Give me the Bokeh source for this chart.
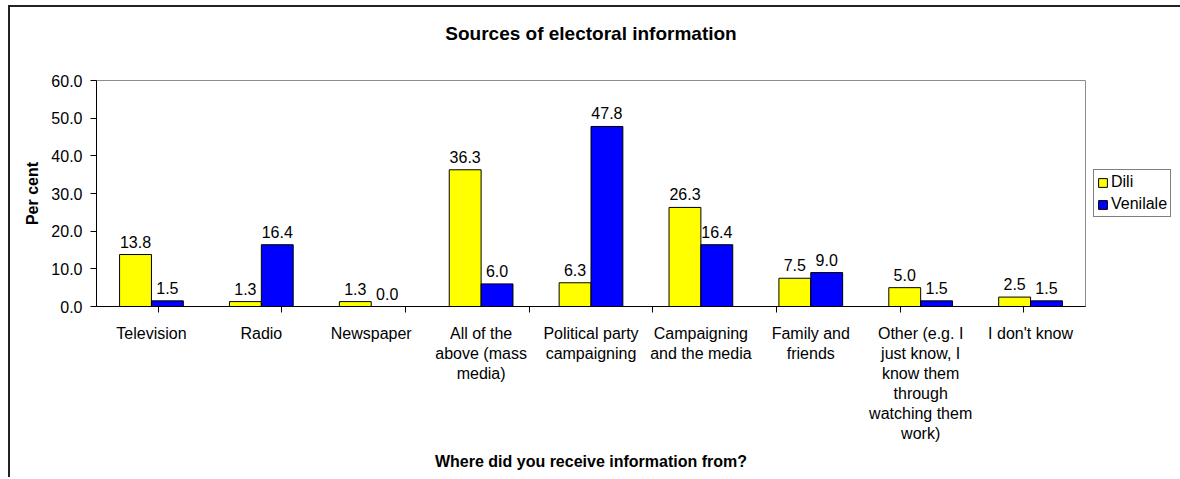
from bokeh.plotting import figure
from bokeh.models import (FactorRange, Range1d, LinearAxis, CategoricalAxis, FixedTicker,
                          ColumnDataSource, NumeralTickFormatter, Title)
from bokeh.transform import dodge
from bokeh.embed import file_html
from bokeh.resources import INLINE
from bokeh.core.properties import value

# ---- data ----
categories = ["Television", "Radio", "Newspaper", "All of the\nabove (mass\nmedia)",
              "Political party\ncampaigning", "Campaigning\nand the media",
              "Family and\nfriends",
              "Other (e.g. I\njust know, I\nknow them\nthrough\nwatching them\nwork)",
              "I don't know"]
dili = [13.8, 1.3, 1.3, 36.3, 6.3, 26.3, 7.5, 5.0, 2.5]
venilale = [1.5, 16.4, 0.0, 6.0, 47.8, 16.4, 9.0, 1.5, 1.5]
series_names = ["Dili", "Venilale"]
y_ticks = [0, 10, 20, 30, 40, 50, 60]

FONT = "Liberation Sans"

src = ColumnDataSource(dict(
    cat=categories, dili=dili, venilale=venilale,
    dili_lbl=[f"{v:.1f}" for v in dili],
    ven_lbl=[f"{v:.1f}" for v in venilale],
))

p = figure(x_range=FactorRange(*categories), y_range=Range1d(0, 60),
           frame_width=989, frame_height=226, output_backend="svg", toolbar_location=None,
           min_border_left=86, min_border_right=0, min_border_top=73, min_border_bottom=173,
           x_axis_location=None, y_axis_location=None)
p.margin = (7, 0, 0, 10)
p.styles = {"box-shadow": "-2px -2px 0 0 #222222"}
p.background_fill_color = "white"
p.border_fill_color = "white"
p.outline_line_color = "#8c8c8c"
p.outline_line_width = 1
p.grid.visible = False

# title (with a small spacer between it and the plot area)
p.title.text = "Sources of electoral information"
p.title.align = "center"
p.title.text_font = FONT
p.title.text_font_size = "19px"
p.title.text_font_style = "bold"
p.title.text_color = "black"
p.title.standoff = 10
p.add_layout(Title(text=" ", text_font_size="1px", standoff=29), "above")

# separator ticks between categories: a factor range of category boundaries
boundaries = [f"b{i}" for i in range(len(categories) + 1)]
p.extra_x_ranges = {"sep": FactorRange(factors=boundaries, range_padding=-1,
                                        range_padding_units="absolute")}
sep_axis = CategoricalAxis(x_range_name="sep",
                           major_tick_out=6, major_tick_in=0, minor_tick_line_color=None,
                           major_label_standoff=0, major_label_text_font_size="0px",
                           axis_line_color="black", major_tick_line_color="black")
p.add_layout(sep_axis, "below")

cat_axis = CategoricalAxis(major_tick_line_color=None, axis_line_color=None,
                           minor_tick_line_color=None,
                           major_label_standoff=6,
                           major_label_text_font=FONT, major_label_text_font_size="16px",
                           major_label_text_color="black",
                           major_label_text_line_height=1.18,
                           axis_label="Where did you receive information from?",
                           axis_label_text_font=FONT, axis_label_text_font_size="16px",
                           axis_label_text_font_style="bold", axis_label_text_color="black",
                           axis_label_standoff=8)
p.add_layout(cat_axis, "below")

yaxis = LinearAxis(ticker=FixedTicker(ticks=y_ticks),
                   formatter=NumeralTickFormatter(format="0.0"),
                   major_tick_out=6, major_tick_in=0, minor_tick_line_color=None,
                   major_label_standoff=8, major_label_text_font=FONT,
                   major_label_text_font_size="16px", major_label_text_color="black",
                   axis_line_color="black", major_tick_line_color="black",
                   axis_label="Per cent", axis_label_text_font=FONT,
                   axis_label_text_font_size="16px", axis_label_text_font_style="bold",
                   axis_label_text_color="black", axis_label_standoff=7)
p.add_layout(yaxis, "left")

off = 0.145
bw = 0.29
p.vbar(x=dodge("cat", -off, range=p.x_range), top="dili", width=bw, source=src,
       fill_color="#FFFF00", line_color="black", line_width=1, legend_label=series_names[0])
p.vbar(x=dodge("cat", off, range=p.x_range), top="venilale", width=bw, source=src,
       fill_color="#0000FF", line_color="black", line_width=1, legend_label=series_names[1])

p.text(x=dodge("cat", -off, range=p.x_range), y="dili", text="dili_lbl", source=src,
       text_align="center", text_baseline="bottom", y_offset=-7,
       text_font=value(FONT), text_font_size="16px", text_color="black")
p.text(x=dodge("cat", off, range=p.x_range), y="venilale", text="ven_lbl", source=src,
       text_align="center", text_baseline="bottom", y_offset=-7,
       text_font=value(FONT), text_font_size="16px", text_color="black")

lg = p.legend[0]
p.center.remove(lg)
p.add_layout(lg, "right")
lg.location = "left"
lg.border_line_color = "black"
lg.border_line_width = 1
lg.background_fill_color = "white"
lg.label_text_font = FONT
lg.label_text_font_size = "16px"
lg.label_text_color = "black"
lg.glyph_width = 11
lg.glyph_height = 11
lg.label_height = 18
lg.label_standoff = 3
lg.spacing = 4
lg.padding = 3
lg.margin = 8

open("out.html", "w").write(file_html(p, INLINE))
